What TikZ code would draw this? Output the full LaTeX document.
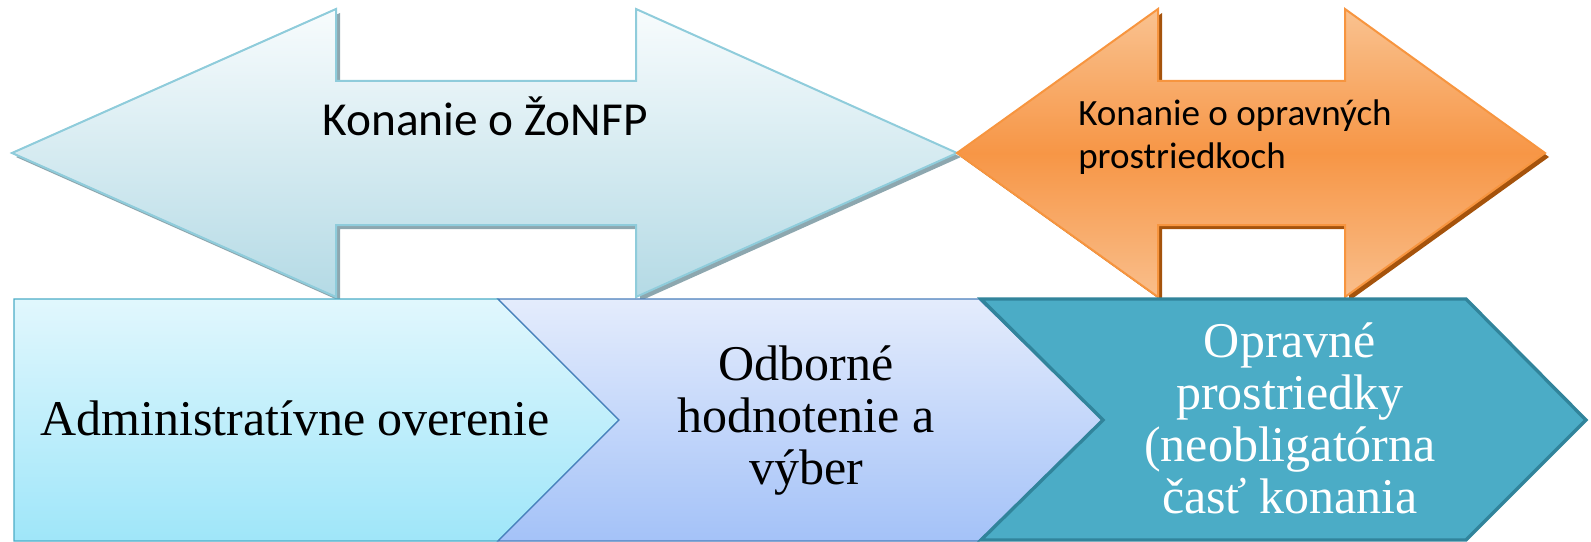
\documentclass[tikz,border=0pt]{standalone}
\usepackage{fontspec}
\setmainfont{Liberation Serif}
\newfontfamily\calfont{Carlito}
\usetikzlibrary{shadows}

\definecolor{procblue}{HTML}{4BACC6}
\definecolor{procdark}{HTML}{31849B}
\definecolor{skyline}{HTML}{8FCCDB}
\definecolor{skytop}{HTML}{F8FCFD}
\definecolor{skybot}{HTML}{B4DAE5}
\definecolor{skyshadow}{HTML}{8DA7AF}
\definecolor{orline}{HTML}{F7953F}
\definecolor{ortop}{HTML}{F9C290}
\definecolor{ormid}{HTML}{F79646}
\definecolor{orbot}{HTML}{F9BE8B}
\definecolor{orshadow}{HTML}{A5530C}
\definecolor{cyantop}{HTML}{E1F7FD}
\definecolor{cyanbot}{HTML}{9FE6F9}
\definecolor{lavtop}{HTML}{E4ECFC}
\definecolor{lavbot}{HTML}{A4C2F8}
\definecolor{lavline}{HTML}{4A7EBB}

\begin{document}
\begin{tikzpicture}[
    x=0.75pt, y=-0.75pt, line join=miter,
    bigarrow/.style={line width=1.5pt},
    zonfparrow/.style={bigarrow, draw=skyline, top color=skytop, bottom color=skybot,
        drop shadow={shadow xshift=3pt, shadow yshift=-3pt, fill=skyshadow, opacity=1}},
    opravarrow/.style={bigarrow, draw=orline, top color=ortop, bottom color=orbot, middle color=ormid,
        drop shadow={shadow xshift=3pt, shadow yshift=-3pt, fill=orshadow, opacity=1}},
    stepbox/.style={line width=1pt},
    steplabel/.style={inner sep=0pt, align=center, font=\fontsize{37.5}{39}\selectfont},
    arrowlabel/.style={inner sep=0pt, font=\calfont}
]
    \useasboundingbox (0,0) rectangle (1591,542);

    % Arrows
    \path[zonfparrow] (12,153) -- (336,9) -- (336,81) -- (636,81) -- (636,9) -- (957,153)
        -- (636,297) -- (636,225) -- (336,225) -- (336,297) -- cycle;
    \path[opravarrow] (957,153) -- (1158,9) -- (1158,81) -- (1345,81) -- (1345,9) -- (1545,153)
        -- (1345,297) -- (1345,225) -- (1158,225) -- (1158,297) -- cycle;

    % Steps
    \path[stepbox, draw=procblue, top color=cyantop, bottom color=cyanbot]
        (14,299) -- (498,299) -- (619,420) -- (498,541) -- (14,541) -- cycle;
    \path[stepbox, draw=lavline, top color=lavtop, bottom color=lavbot]
        (498,299) -- (979,299) -- (1103,420) -- (979,541) -- (498,541) -- (619,420) -- cycle;
    \path[stepbox, line width=2.5pt, draw=procdark, fill=procblue]
        (981,299) -- (1466,299) -- (1586,420) -- (1466,540) -- (981,540) -- (1103,420) -- cycle;

    % Labels
    \node[arrowlabel, font=\calfont\fontsize{35.5}{40}\selectfont, anchor=base] (zonfp) at (485,135) {Konanie o ŽoNFP};
    \node[arrowlabel, font=\calfont\fontsize{27.8}{32.25}\selectfont, align=left, anchor=west] (opravne) at (1078,137)
        {Konanie o opravných\\prostriedkoch};

    \node[steplabel, anchor=base] (admin) at (295,435) {Administratívne overenie};
    \node[steplabel] (odborne) at (806,421) {Odborné\\hodnotenie a\\výber};
    \node[steplabel, text=white] (prostriedky) at (1290,418)
        {Opravné\\prostriedky\\(neobligatórna\\časť konania};
\end{tikzpicture}
\end{document}
